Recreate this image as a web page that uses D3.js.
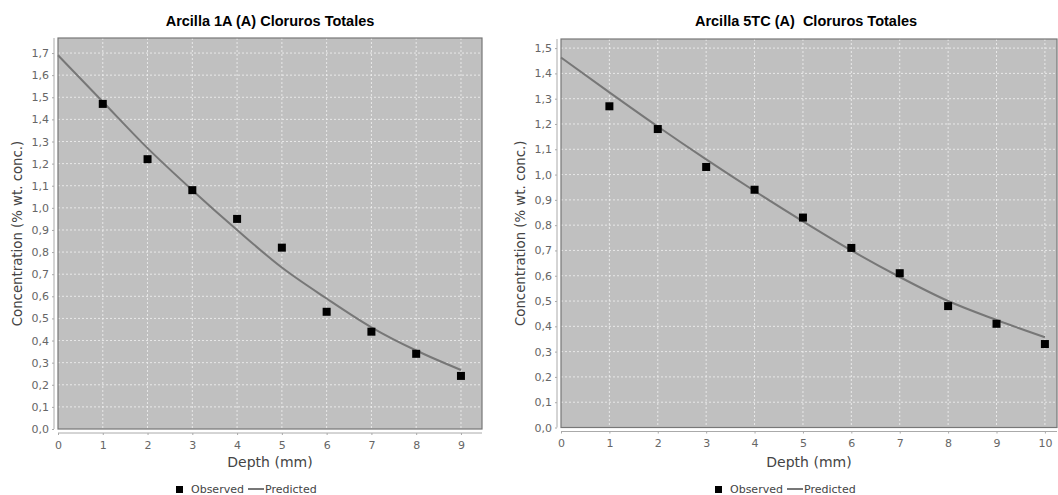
<!DOCTYPE html>
<html>
<head>
<meta charset="utf-8">
<script src="https://cdn.jsdelivr.net/npm/d3@7"></script>
<style>
  body { margin: 0; background: #fff; }
  svg { display: block; }
  .tick text { font-family: "DejaVu Sans", sans-serif; font-size: 11px; fill: #666; }
</style>
</head>
<body>
<svg id="vis" width="1058" height="495"></svg>
<script>
// data
var depth1 = [1, 2, 3, 4, 5, 6, 7, 8, 9];
var observed1 = [1.47, 1.22, 1.08, 0.95, 0.82, 0.53, 0.44, 0.34, 0.24];
var predDepth1 = [0, 1, 2, 3, 4, 5, 6, 7, 8, 9];
var predicted1 = [1.69, 1.48, 1.27, 1.08, 0.90, 0.73, 0.59, 0.46, 0.355, 0.267];
var xTicks1 = [0, 1, 2, 3, 4, 5, 6, 7, 8, 9];
var yTicks1 = [0, 0.1, 0.2, 0.3, 0.4, 0.5, 0.6, 0.7, 0.8, 0.9, 1.0, 1.1, 1.2, 1.3, 1.4, 1.5, 1.6, 1.7];

var depth2 = [1, 2, 3, 4, 5, 6, 7, 8, 9, 10];
var observed2 = [1.27, 1.18, 1.03, 0.94, 0.83, 0.71, 0.61, 0.48, 0.41, 0.33];
var predDepth2 = [0, 1, 2, 3, 4, 5, 6, 7, 8, 9, 10];
var predicted2 = [1.463, 1.325, 1.19, 1.06, 0.935, 0.815, 0.70, 0.595, 0.50, 0.425, 0.357];
var xTicks2 = [0, 1, 2, 3, 4, 5, 6, 7, 8, 9, 10];
var yTicks2 = [0, 0.1, 0.2, 0.3, 0.4, 0.5, 0.6, 0.7, 0.8, 0.9, 1.0, 1.1, 1.2, 1.3, 1.4, 1.5];

var _vis = d3.select("#vis");
var fmt = d => d3.format(".1f")(d).replace(".", ",");

function drawChart(c) {
    var g = _vis.append("g");
    var x = d3.scaleLinear().domain(c.xDomain).range([c.left, c.right]);
    var y = d3.scaleLinear().domain(c.yDomain).range([c.bottom, c.top]);

    // plot background
    g.append("rect")
        .attr("x", c.left).attr("y", c.top)
        .attr("width", c.right - c.left).attr("height", c.bottom - c.top)
        .attr("fill", "#c0c0c0");

    // gridlines
    g.selectAll("line.vgrid").data(c.xTicks.slice(1)).enter().append("line")
        .attr("x1", d => x(d)).attr("x2", d => x(d))
        .attr("y1", c.top).attr("y2", c.bottom)
        .attr("stroke", "#f2f2f2").attr("stroke-width", 0.8).attr("stroke-dasharray", "2,2");
    g.selectAll("line.hgrid").data(c.yTicks.slice(1)).enter().append("line")
        .attr("x1", c.left).attr("x2", c.right)
        .attr("y1", d => y(d)).attr("y2", d => y(d))
        .attr("stroke", "#f2f2f2").attr("stroke-width", 0.8).attr("stroke-dasharray", "2,2");

    // plot border
    g.append("rect")
        .attr("x", c.left).attr("y", c.top)
        .attr("width", c.right - c.left).attr("height", c.bottom - c.top)
        .attr("fill", "none").attr("stroke", "#777").attr("stroke-width", 1.2);

    // axes, offset from the plot
    var yAxis = g.append("g")
        .attr("transform", "translate(" + (c.left - 4) + ",0)")
        .call(d3.axisLeft(y).tickValues(c.yTicks).tickFormat(fmt).tickSizeInner(2).tickSizeOuter(0).tickPadding(3));
    var xAxis = g.append("g")
        .attr("transform", "translate(0," + (c.bottom + 4) + ")")
        .call(d3.axisBottom(x).tickValues(c.xTicks).tickFormat(d3.format("d")).tickSizeInner(2).tickSizeOuter(0).tickPadding(6));
    [xAxis, yAxis].forEach(function(a) {
        a.select(".domain").attr("stroke", "#aaa");
        a.selectAll(".tick line").attr("stroke", "#aaa");
    });
    yAxis.select(".domain").attr("d", "M0," + c.top + "V" + c.bottom);
    xAxis.select(".domain").attr("d", "M" + c.left + ",0H" + c.right);

    // predicted curve
    var line = d3.line().x(d => x(d[0])).y(d => y(d[1])).curve(d3.curveMonotoneX);
    g.append("path")
        .datum(c.predDepth.map((d, i) => [d, c.predicted[i]]))
        .attr("d", line)
        .attr("fill", "none").attr("stroke", "#777").attr("stroke-width", 2);

    // observed squares
    g.selectAll("rect.obs").data(c.depth).enter().append("rect")
        .attr("x", d => x(d) - 4).attr("y", (d, i) => y(c.observed[i]) - 4)
        .attr("width", 8).attr("height", 8).attr("fill", "#000");

    // title
    g.append("text")
        .attr("x", c.titleX).attr("y", 26)
        .attr("text-anchor", "middle")
        .attr("font-family", "Liberation Sans, Arial, sans-serif").attr("font-weight", "bold")
        .attr("font-size", "14.5px").attr("fill", "#000")
        .attr("xml:space", "preserve")
        .text(c.title);

    var mid = (c.left + c.right) / 2;
    // axis labels
    g.append("text")
        .attr("x", mid).attr("y", 467)
        .attr("text-anchor", "middle")
        .attr("font-family", "DejaVu Sans, sans-serif")
        .attr("font-size", "14px").attr("fill", "#444")
        .text("Depth (mm)");
    g.append("text")
        .attr("transform", "translate(" + c.yLabelX + "," + ((c.top + c.bottom) / 2) + ") rotate(-90)")
        .attr("text-anchor", "middle")
        .attr("font-family", "DejaVu Sans, sans-serif")
        .attr("font-size", "13.3px").attr("fill", "#444")
        .text("Concentration (% wt. conc.)");

    // legend
    var lg = g.append("g").attr("transform", "translate(" + (mid - 94) + ",493)");
    lg.append("rect").attr("x", 0).attr("y", -7).attr("width", 7).attr("height", 7).attr("fill", "#000");
    lg.append("text").attr("x", 15).attr("y", 0)
        .attr("font-family", "DejaVu Sans, sans-serif").attr("font-size", "11px").attr("fill", "#444")
        .text("Observed");
    lg.append("line").attr("x1", 72).attr("x2", 88).attr("y1", -4).attr("y2", -4)
        .attr("stroke", "#777").attr("stroke-width", 2);
    lg.append("text").attr("x", 89).attr("y", 0)
        .attr("font-family", "DejaVu Sans, sans-serif").attr("font-size", "11px").attr("fill", "#444")
        .text("Predicted");
}

drawChart({
    title: "Arcilla 1A (A) Cloruros Totales", titleX: 270,
    left: 58, right: 482, top: 38, bottom: 429, yLabelX: 22,
    xDomain: [0, 9.47], yDomain: [0, 1.768],
    xTicks: xTicks1, yTicks: yTicks1,
    depth: depth1, observed: observed1, predDepth: predDepth1, predicted: predicted1
});
drawChart({
    title: "Arcilla 5TC (A)  Cloruros Totales", titleX: 806,
    left: 561, right: 1057, top: 39, bottom: 427.5, yLabelX: 525,
    xDomain: [0, 10.25], yDomain: [0, 1.536],
    xTicks: xTicks2, yTicks: yTicks2,
    depth: depth2, observed: observed2, predDepth: predDepth2, predicted: predicted2
});
</script>
</body>
</html>
